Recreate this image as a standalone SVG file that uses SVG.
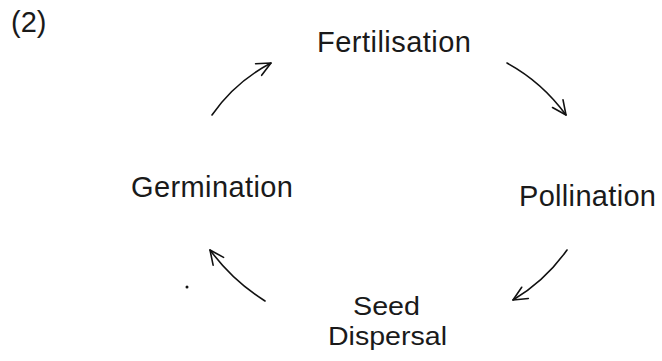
<svg xmlns="http://www.w3.org/2000/svg" width="662" height="361" viewBox="0 0 662 361">
<defs>
<style>
.lbl{font-family:"Liberation Sans",Arial,sans-serif;font-size:29px;fill:#1a1a1a}
.sm{font-size:26.5px}
.arr{fill:none;stroke:#111;stroke-width:1.6;stroke-linecap:round;stroke-linejoin:round}
</style>
<marker id="head" markerUnits="userSpaceOnUse" markerWidth="20" markerHeight="20" viewBox="-16 -10 20 20" refX="0" refY="0" orient="auto">
<path d="M-14,-6.5 L0,0 L-14,6.5" fill="none" stroke="#111" stroke-width="1.6" stroke-linecap="round" stroke-linejoin="round"/>
</marker>
</defs>
<rect width="662" height="361" fill="#fff"/>
<text class="lbl" x="11" y="32">(2)</text>
<g id="fertilisation"><text class="lbl" x="317" y="52" textLength="154">Fertilisation</text></g>
<g id="pollination"><text class="lbl" x="519" y="206" textLength="137">Pollination</text></g>
<g id="seed-dispersal"><text class="lbl sm" x="353" y="314.5" textLength="67" lengthAdjust="spacingAndGlyphs">Seed</text><text class="lbl sm" x="328" y="344.5" textLength="119" lengthAdjust="spacingAndGlyphs">Dispersal</text></g>
<g id="germination"><text class="lbl" x="131" y="197" textLength="162">Germination</text></g>
<g id="connectors">
<path class="arr" d="M212,115 Q235,82 271,63" marker-end="url(#head)"/>
<path class="arr" d="M507,63 Q542,82 566,115" marker-end="url(#head)"/>
<path class="arr" d="M567,250 Q545,281 513,300" marker-end="url(#head)"/>
<path class="arr" d="M265,301 Q233,281 210,250" marker-end="url(#head)"/>
</g>
<circle cx="187" cy="287" r="1.5" fill="#111"/>
</svg>
